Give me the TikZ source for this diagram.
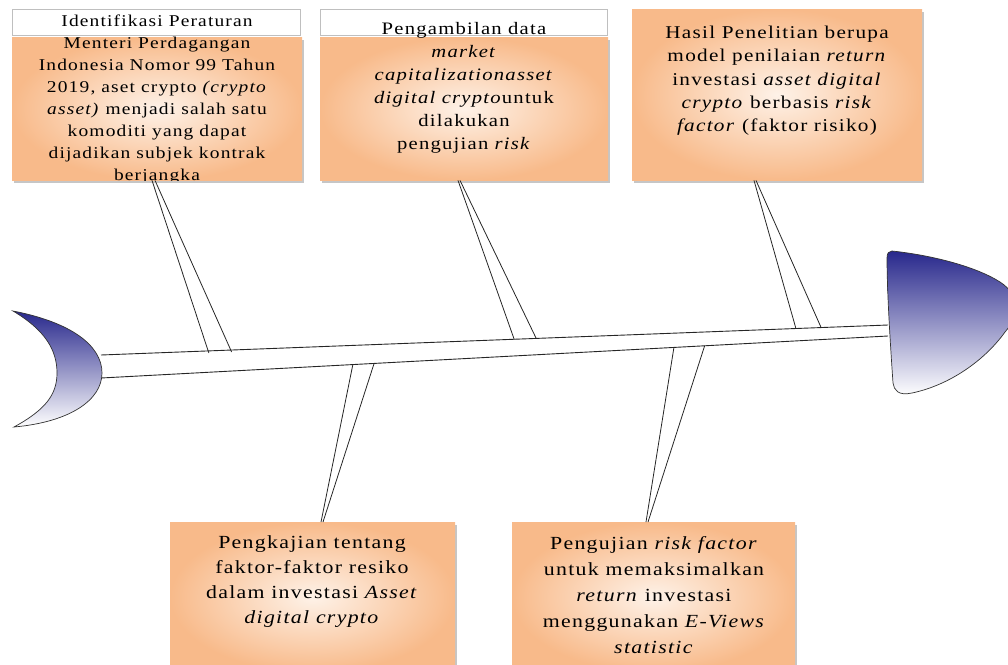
\documentclass[tikz,border=0pt]{standalone}
\usepackage{fontspec}
\setmainfont{Liberation Serif}[FakeStretch=1.18, LetterSpace=7]
\usetikzlibrary{shadows,calc}
\definecolor{orD}{RGB}{248,186,138}
\definecolor{orL}{RGB}{254,242,232}
\definecolor{fishblue}{RGB}{40,40,140}
\begin{document}
\begin{tikzpicture}[x=1pt,y=-1pt,
  hdr/.style={draw=gray!50, fill=white, line width=0.5pt, anchor=north west, inner sep=0pt},
  obox/.style={inner color=orL, outer color=orD, anchor=north west, inner sep=0pt,
     drop shadow={shadow xshift=2pt, shadow yshift=-2.5pt, opacity=0.45, fill=gray}},
  txt/.style={align=center, inner sep=0pt, anchor=north},
  bone/.style={draw=black!85, line width=0.8pt},
  spine/.style={draw=black!85, line width=0.9pt},
  fish/.style={top color=fishblue, bottom color=white, draw=black!80, line width=0.7pt}]
\path[use as bounding box] (0,0) rectangle (1008,664);

% headers and boxes
\node[hdr, minimum width=288pt, minimum height=26pt] (h1) at (12,9) {};
\node[obox, minimum width=290pt, minimum height=143pt] (b1) at (12,37) {};
\node[hdr, minimum width=287pt, minimum height=26pt] (h2) at (320,9) {};
\node[obox, minimum width=288pt, minimum height=143pt] (b2) at (320,37) {};
\node[obox, minimum width=290pt, minimum height=171pt] (b3) at (632,9) {};
\node[obox, minimum width=285pt, minimum height=150pt] (b4) at (170,522) {};
\node[obox, minimum width=283pt, minimum height=150pt] (b5) at (512,522) {};

% texts
\begin{scope}
\clip (12,9) rectangle (302,180);
\node[txt, font=\fontsize{16.5}{22}\selectfont] (t1) at (157,15) {Identifikasi Peraturan\\Menteri Perdagangan\\Indonesia Nomor 99 Tahun\\2019, aset crypto \textit{(crypto}\\\textit{asset)} menjadi salah satu\\komoditi yang dapat\\dijadikan subjek kontrak\\berjangka};
\end{scope}
\node[txt, font=\fontsize{17.5}{23}\selectfont] (t2) at (464,22) {Pengambilan data\\\textit{market}\\\textit{capitalizationasset}\\\textit{digital crypto}untuk\\dilakukan\\pengujian \textit{risk}};
\node[txt, font=\fontsize{18}{23.2}\selectfont] (t3) at (777,26) {Hasil Penelitian berupa\\model penilaian \textit{return}\\investasi \textit{asset digital}\\\textit{crypto} berbasis \textit{risk}\\\textit{factor} (faktor risiko)};
\node[txt, font=\fontsize{18.5}{25}\selectfont] (t4) at (312,535) {Pengkajian tentang\\faktor-faktor resiko\\dalam investasi \textit{Asset}\\\textit{digital crypto}};
\node[txt, font=\fontsize{18.5}{26}\selectfont] (t5) at (654,536) {Pengujian \textit{risk factor}\\untuk memaksimalkan\\\textit{return} investasi\\menggunakan \textit{E-Views}\\\textit{statistic}};

% fish tail and head
\draw[fish] (13,311) .. controls (70,322) and (102,345) .. (102,373)
  .. controls (102,400) and (70,422) .. (14,427)
  .. controls (45,410) and (57,395) .. (57,373)
  .. controls (57,350) and (45,330) .. (13,311) -- cycle;
\draw[fish] (892,251) .. controls (930,255) and (975,266) .. (1000,282)
  .. controls (1020,295) and (1020,315) .. (1005,332)
  .. controls (985,360) and (950,385) .. (912,393)
  .. controls (898,396) and (894,390) .. (893,383)
  .. controls (890,340) and (887,290) .. (887,258)
  .. controls (887,253) and (889,251) .. (892,251) -- cycle;

% spine
\coordinate (sul) at (101,355);
\coordinate (sur) at (888,325);
\coordinate (sll) at (101,378);
\coordinate (slr) at (888,336);
\draw[spine] (sul) -- (sur);
\draw[spine] (sll) -- (slr);

% bone ends on spine
\coordinate (e1a) at ($(sul)!0.137!(sur)+(0,2)$);
\coordinate (e1b) at ($(sul)!0.166!(sur)+(0,2)$);
\coordinate (e2a) at ($(sul)!0.525!(sur)$);
\coordinate (e2b) at ($(sul)!0.553!(sur)$);
\coordinate (e3a) at ($(sul)!0.883!(sur)$);
\coordinate (e3b) at ($(sul)!0.915!(sur)$);
\coordinate (e4a) at ($(sll)!0.320!(slr)$);
\coordinate (e4b) at ($(sll)!0.347!(slr)$);
\coordinate (e5a) at ($(sll)!0.728!(slr)$);
\coordinate (e5b) at ($(sll)!0.767!(slr)$);

% bones
\draw[bone] ($(b1.south west)+(140,0)$) -- (e1a);
\draw[bone] ($(b1.south west)+(143,0)$) -- (e1b);
\draw[bone] ($(b2.south west)+(138,0)$) -- (e2a);
\draw[bone] ($(b2.south west)+(140,0)$) -- (e2b);
\draw[bone] ($(b3.south west)+(122,0)$) -- (e3a);
\draw[bone] ($(b3.south west)+(124,0)$) -- (e3b);
\draw[bone] ($(b4.north west)+(151,0)$) -- (e4a);
\draw[bone] ($(b4.north west)+(153,0)$) -- (e4b);
\draw[bone] ($(b5.north west)+(134,0)$) -- (e5a);
\draw[bone] ($(b5.north west)+(136,0)$) -- (e5b);
\end{tikzpicture}
\end{document}
